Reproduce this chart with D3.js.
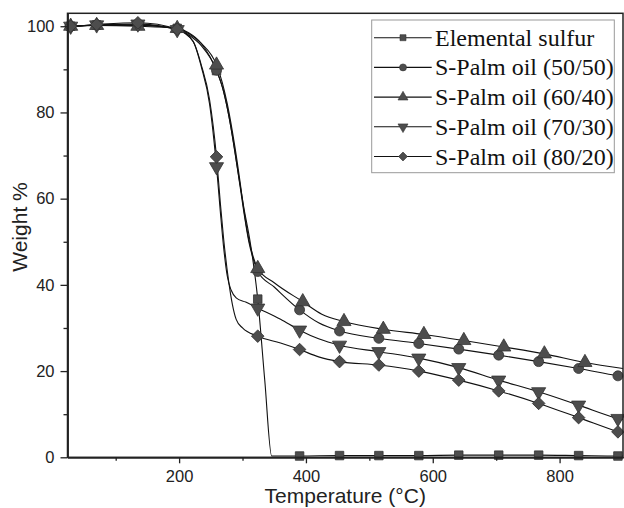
<!DOCTYPE html>
<html>
<head>
<meta charset="utf-8">
<script src="https://cdn.jsdelivr.net/npm/d3@7"></script>
<style>
  body { margin: 0; background: #fff; }
  svg { display: block; }
</style>
</head>
<body>
<div id="chart"></div>
<script>
// series names
const seriesNames = ["Elemental sulfur", "S-Palm oil (50/50)", "S-Palm oil (60/40)", "S-Palm oil (70/30)", "S-Palm oil (80/20)"];

// line points [temperature, weight %]
const sulfurLine = [[24,100],[29,100],[70,100.3],[135,100.2],[197,99.5],[215,98.5],[235,96],[259,89.7],[270,85],[280,78],[292,67],[302,58],[312,50],[318,44],[324,36.7],[335,18],[346,0.3],[390,0.3],[453,0.4],[515,0.4],[578,0.4],[641,0.5],[704,0.5],[767,0.5],[830,0.4],[892,0.3],[900,0.3]];
const palm5050Line = [[24,100],[29,100],[70,100.3],[135,100.3],[197,99.4],[215,98],[235,95.5],[259,89.8],[268,86],[276,81],[288,71],[296,63],[302,57],[310,50],[318,45.5],[324,43.1],[350,39.5],[390,34.2],[420,31.2],[453,29.3],[515,27.6],[578,26.4],[641,25.1],[704,23.7],[767,22.2],[830,20.6],[892,18.9],[900,18.7]];
const palm6040Line = [[24,100],[29,100],[70,100.2],[135,100],[197,99.5],[215,98.3],[235,96],[259,91],[268,87],[276,82],[288,72],[296,64],[302,57.5],[310,50.5],[318,46],[324,43.8],[350,40.5],[395,36.1],[425,33.2],[460,31.5],[522,29.7],[586,28.5],[649,27.1],[712,25.6],[776,24],[840,22],[900,20.6]];
const palm7030Line = [[24,100],[29,100],[70,100.3],[135,100.5],[197,99.2],[222,96.5],[235,90.6],[248,82],[259,67.4],[265,57],[270,49],[276,42],[282,38.8],[290,37],[305,36],[324,34.6],[360,32],[390,29.5],[420,27.5],[453,26],[515,24.5],[578,23],[641,20.8],[704,17.9],[767,15.2],[830,12.1],[892,9],[900,8.7]];
const palm8020Line = [[24,100],[29,100],[70,100.4],[135,100.8],[197,99.3],[222,96.5],[235,91],[248,83],[259,69.7],[265,59],[270,51],[278,41],[284,35.5],[290,32],[300,30],[324,28.1],[360,26.5],[390,25],[420,23.3],[453,22.2],[515,21.4],[578,20],[641,17.9],[704,15.4],[767,12.5],[830,9.2],[892,5.9],[900,5.5]];

// marker points
const sulfurMarks = [[29,100],[70,100.3],[135,100.2],[197,99.5],[259,89.7],[324,36.7],[390,0.3],[453,0.4],[515,0.4],[578,0.4],[641,0.5],[704,0.5],[767,0.5],[830,0.4],[892,0.3]];
const palm5050Marks = [[29,100],[70,100.3],[135,100.3],[197,99.4],[259,89.8],[324,43.1],[390,34.2],[453,29.3],[515,27.6],[578,26.4],[641,25.1],[704,23.7],[767,22.2],[830,20.6],[892,18.9]];
const palm6040Marks = [[29,100],[70,100.2],[135,100],[197,99.5],[259,91],[324,43.8],[395,36.1],[460,31.5],[522,29.7],[586,28.5],[649,27.1],[712,25.6],[776,24],[840,22]];
const palm7030Marks = [[29,100],[70,100.3],[135,100.5],[197,99.2],[259,67.4],[324,34.6],[390,29.5],[453,26],[515,24.5],[578,23],[641,20.8],[704,17.9],[767,15.2],[830,12.1],[892,9]];
const palm8020Marks = [[29,100],[70,100.4],[135,100.8],[197,99.3],[259,69.7],[324,28.1],[390,25],[453,22.2],[515,21.4],[578,20],[641,17.9],[704,15.4],[767,12.5],[830,9.2],[892,5.9]];

// ticks
const xTicks = [200, 400, 600, 800];
const xMinor = [100, 300, 500, 700];
const yTicks = [0, 20, 40, 60, 80, 100];
const yMinor = [10, 30, 50, 70, 90];

const lines = [sulfurLine, palm5050Line, palm6040Line, palm7030Line, palm8020Line];
const marks = [sulfurMarks, palm5050Marks, palm6040Marks, palm7030Marks, palm8020Marks];
const shapes = ["square", "circle", "up", "down", "diamond"];

const width = 624, height = 508;
const plotLeft = 67.5, plotRight = 623, plotTop = 13.3, plotBottom = 457.3;

const svg = d3.select("#chart").append("svg")
  .attr("width", width)
  .attr("height", height);

const x = d3.scaleLinear().domain([24, 900]).range([plotLeft, plotRight]);
const y = d3.scaleLinear().domain([0, 103]).range([plotBottom, plotTop]);

// marker shape
function symbolPath(shape, s) {
  if (shape === "square") return d3.symbol(d3.symbolSquare, s * s)();
  if (shape === "circle") return d3.symbol(d3.symbolCircle, Math.PI * s * s / 4)();
  if (shape === "up" || shape === "down") return d3.symbol(d3.symbolTriangle, s * s * 0.6)();
  return d3.symbol(d3.symbolSquare, s * s * 0.55)();
}
function symbolRotate(shape) {
  if (shape === "down") return 180;
  if (shape === "diamond") return 45;
  return 0;
}

// curves
const line = d3.line()
  .x(d => x(d[0]))
  .y(d => y(d[1]))
  .curve(d3.curveMonotoneX);

const plot = svg.append("g");

lines.forEach(data => {
  plot.append("path")
    .attr("d", line(data))
    .attr("fill", "none")
    .attr("stroke", "#111")
    .attr("stroke-width", 1.1);
});

marks.forEach((data, i) => {
  plot.selectAll(null)
    .data(data)
    .enter()
    .append("path")
    .attr("d", symbolPath(shapes[i], shapes[i] === "circle" ? 10 : shapes[i] === "square" ? 8.5 : 12))
    .attr("transform", d => `translate(${x(d[0])},${y(d[1])}) rotate(${symbolRotate(shapes[i])})`)
    .attr("fill", "#4d4d4d")
    .attr("stroke", "#333")
    .attr("stroke-width", 0.8);
});

// frame
svg.append("rect")
  .attr("x", plotLeft)
  .attr("y", plotTop)
  .attr("width", plotRight - plotLeft)
  .attr("height", plotBottom - plotTop)
  .attr("fill", "none")
  .attr("stroke", "#222")
  .attr("stroke-width", 1.5);

// x axis
svg.append("g")
  .attr("transform", `translate(0,${plotBottom})`)
  .call(d3.axisBottom(x).tickValues(xTicks).tickSize(6).tickSizeOuter(0).tickPadding(7));
svg.append("g")
  .attr("transform", `translate(0,${plotBottom})`)
  .call(d3.axisBottom(x).tickValues(xMinor).tickSize(3.5).tickSizeOuter(0).tickFormat(""));

// y axis
svg.append("g")
  .attr("transform", `translate(${plotLeft},0)`)
  .call(d3.axisLeft(y).tickValues(yTicks).tickSize(7).tickSizeOuter(0).tickPadding(6));
svg.append("g")
  .attr("transform", `translate(${plotLeft},0)`)
  .call(d3.axisLeft(y).tickValues(yMinor).tickSize(4).tickSizeOuter(0).tickFormat(""));

svg.selectAll(".domain").attr("stroke", "#222").attr("stroke-width", 1.5);
svg.selectAll(".tick line").attr("stroke", "#222").attr("stroke-width", 1.3);
svg.selectAll(".tick text")
  .attr("font-family", "Liberation Sans, Arial, sans-serif")
  .attr("font-size", 16.5)
  .attr("fill", "#222");

// axis titles
svg.append("text")
  .attr("x", (plotLeft + plotRight) / 2)
  .attr("y", 503)
  .attr("text-anchor", "middle")
  .attr("font-family", "Liberation Sans, Arial, sans-serif")
  .attr("font-size", 21)
  .attr("fill", "#222")
  .text("Temperature (°C)");

svg.append("text")
  .attr("transform", "translate(27,227) rotate(-90)")
  .attr("text-anchor", "middle")
  .attr("font-family", "Liberation Sans, Arial, sans-serif")
  .attr("font-size", 21)
  .attr("fill", "#222")
  .text("Weight %");

// legend
const legend = svg.append("g");
legend.append("rect")
  .attr("x", 371.7)
  .attr("y", 20)
  .attr("width", 242.6)
  .attr("height", 152.7)
  .attr("fill", "#fff")
  .attr("stroke", "#999")
  .attr("stroke-width", 1);

seriesNames.forEach((name, i) => {
  const cy = 37.7 + i * 29.7;
  legend.append("line")
    .attr("x1", 374).attr("x2", 431.7)
    .attr("y1", cy).attr("y2", cy)
    .attr("stroke", "#111")
    .attr("stroke-width", 1.1);
  legend.append("path")
    .attr("d", symbolPath(shapes[i], shapes[i] === "circle" ? 7 : shapes[i] === "square" ? 6 : 8.5))
    .attr("transform", `translate(403,${cy}) rotate(${symbolRotate(shapes[i])})`)
    .attr("fill", "#4d4d4d")
    .attr("stroke", "#333")
    .attr("stroke-width", 0.6);
  legend.append("text")
    .attr("x", 435)
    .attr("y", cy + 8)
    .attr("font-family", "Liberation Serif, Times New Roman, serif")
    .attr("font-size", 24)
    .attr("fill", "#111")
    .text(name);
});
</script>
</body>
</html>
